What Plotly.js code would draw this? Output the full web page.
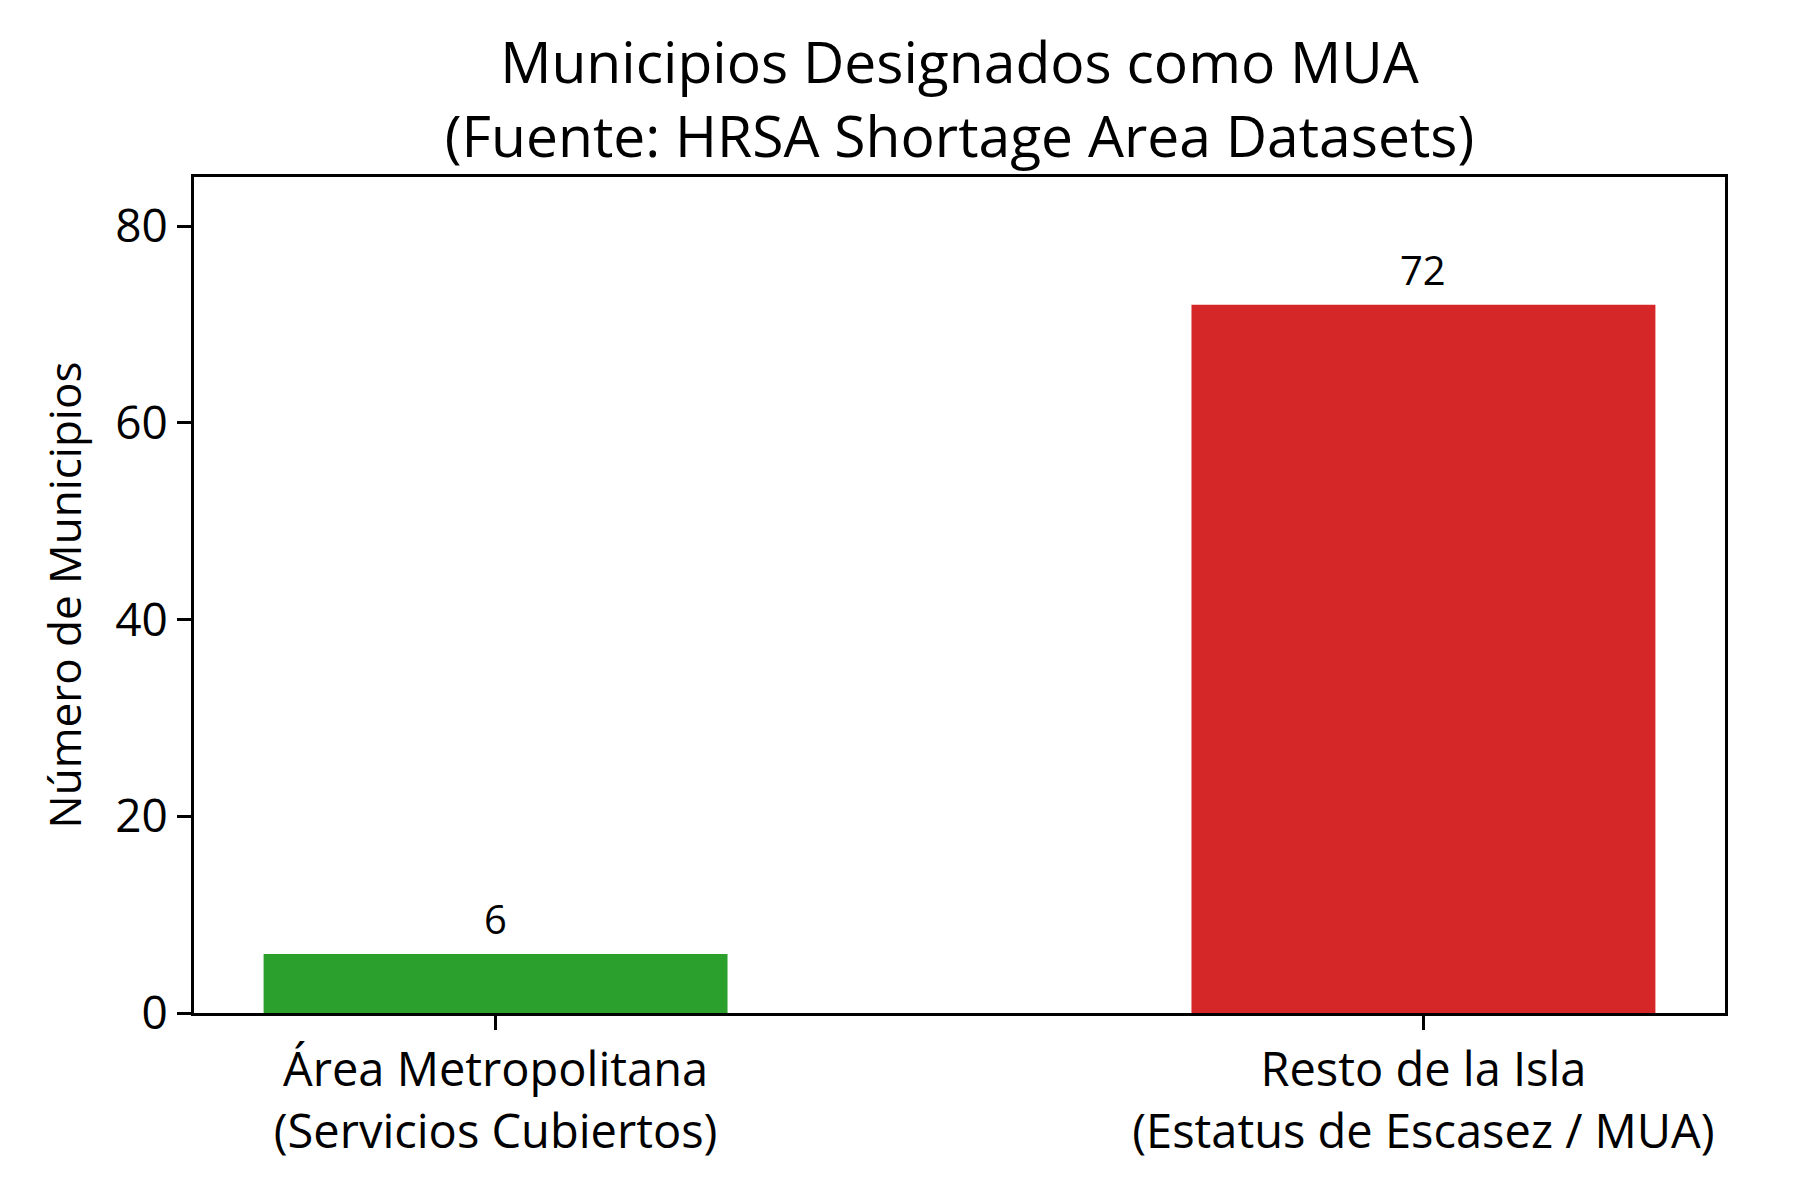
<!DOCTYPE html>
<html>
<head>
<meta charset="utf-8">
<script src="https://cdn.plot.ly/plotly-3.0.1.min.js"></script>
<style>
  html, body { margin: 0; padding: 0; background: #ffffff; }
  #chart { width: 1800px; height: 1200px; }
</style>
</head>
<body>
<div id="chart"></div>
<script>
  // Data
  var categories = [
    'Área Metropolitana<br>(Servicios Cubiertos)',
    'Resto de la Isla<br>(Estatus de Escasez / MUA)'
  ];
  var municipios = [6, 72];
  var barColors = ['#2ca02c', '#d62728'];
  var yTicks = [0, 20, 40, 60, 80];

  var FONT = 'Open Sans, Roboto, sans-serif';

  var trace = {
    type: 'bar',
    x: categories,
    y: municipios,
    marker: { color: barColors, line: { width: 0 } },
    hoverinfo: 'x+y'
  };

  // value labels above each bar
  var annotations = municipios.map(function (v, i) {
    return {
      x: categories[i],
      y: v,
      xref: 'x',
      yref: 'y',
      text: String(v),
      showarrow: false,
      yanchor: 'bottom',
      yshift: 6,
      font: { family: FONT, size: 40, color: '#000000' }
    };
  });

  var layout = {
    width: 1800,
    height: 1200,
    paper_bgcolor: '#ffffff',
    plot_bgcolor: '#ffffff',
    font: { family: FONT, color: '#000000' },
    margin: { l: 194, r: 75, t: 177, b: 187, pad: 0 },
    showlegend: false,
    bargap: 0.5,
    title: {
      text: 'Municipios Designados como MUA<br>(Fuente: HRSA Shortage Area Datasets)',
      x: 0.5,
      xref: 'paper',
      y: 1,
      yref: 'paper',
      yanchor: 'bottom',
      pad: { b: 94 },
      font: { family: FONT, size: 57, color: '#000000' }
    },
    xaxis: {
      type: 'category',
      range: [-0.325, 1.325],
      showline: true,
      mirror: true,
      linecolor: '#000000',
      linewidth: 3,
      ticks: 'outside',
      ticklen: 14,
      tickwidth: 3,
      tickcolor: '#000000',
      showgrid: false,
      zeroline: false,
      tickfont: { family: FONT, size: 47, color: '#000000' }
    },
    yaxis: {
      range: [0, 85],
      tickvals: yTicks,
      showline: true,
      mirror: true,
      linecolor: '#000000',
      linewidth: 3,
      ticks: 'outside',
      ticklen: 14,
      tickwidth: 3,
      tickcolor: '#000000',
      showgrid: false,
      zeroline: false,
      tickfont: { family: FONT, size: 46, color: '#000000' },
      title: {
        text: 'Número de Municipios',
        standoff: 20,
        font: { family: FONT, size: 44, color: '#000000' }
      }
    },
    annotations: annotations
  };

  var config = { displayModeBar: false, staticPlot: true };

  Plotly.newPlot('chart', [trace], layout, config);
</script>
</body>
</html>
